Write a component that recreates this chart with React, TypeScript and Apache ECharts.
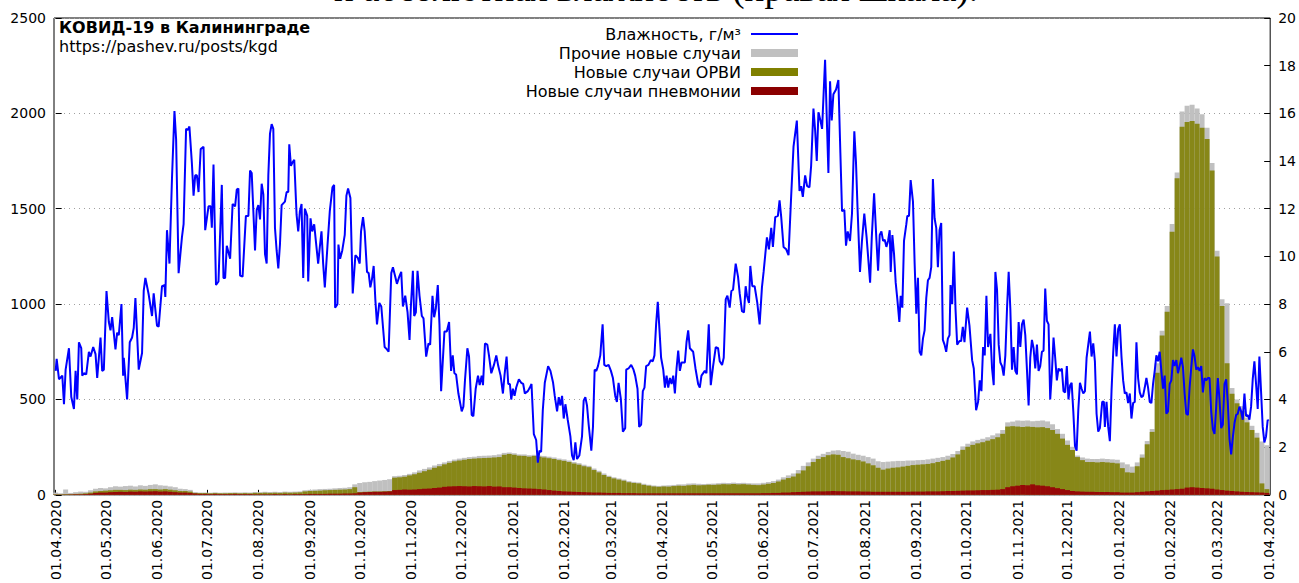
import React, { useEffect, useRef } from "react";
import * as echarts from "echarts";

// Month tick labels (x axis)
const monthLabels = [
  "01.04.2020", "01.05.2020", "01.06.2020", "01.07.2020", "01.08.2020", "01.09.2020",
  "01.10.2020", "01.11.2020", "01.12.2020", "01.01.2021", "01.02.2021", "01.03.2021",
  "01.04.2021", "01.05.2021", "01.06.2021", "01.07.2021", "01.08.2021", "01.09.2021",
  "01.10.2021", "01.11.2021", "01.12.2021", "01.01.2022", "01.02.2022", "01.03.2022",
  "01.04.2022",
];

// Bars are sampled every BAR_STEP days starting at day 0 (01.04.2020)
const BAR_STEP = 3;

// Новые случаи пневмонии
const pneumonia = [
  1, 1, 2, 2, 3, 3, 4, 6, 10, 12, 12, 14, 15, 16, 15, 17, 16, 18, 17, 18, 19, 17, 18, 16, 14, 12, 12, 10,
  7, 5, 5, 4, 5, 4, 4, 4, 5, 4, 4, 4,
  3, 3, 3, 3, 4, 3, 4, 3, 4, 4,
  4, 5, 5, 5, 5, 6, 6, 6, 7, 7, 8,
  12, 14, 15, 16, 16, 17, 18,
  25, 26, 28, 27, 28, 30, 32, 33, 36, 38, 42, 44, 45, 46, 45, 44, 46, 45, 44, 46, 43, 44,
  40, 40, 38, 36, 34, 33, 32, 30, 28, 25, 22, 20, 18, 17, 16, 15, 14, 13, 12, 12, 11, 10, 10, 10, 9, 9, 9, 8, 8, 8, 8,
  8, 8, 8, 8, 8, 8, 8, 8, 8, 8, 8, 8, 8, 8, 8, 8, 8, 8, 8, 8, 8,
  9, 9, 10, 10, 12, 12, 14, 15, 16, 17, 18, 18, 18, 19, 20,
  19, 19, 18, 18, 18, 17, 17, 16, 16, 16, 16, 16, 16, 16, 16, 17, 17, 17, 18, 18, 18, 19, 20,
  20, 21, 22, 23, 23, 24, 25, 25, 26, 27, 30, 40, 45, 48, 52, 50, 55, 50, 48, 45, 40, 35, 30, 25, 20,
  18, 17, 16, 16, 15, 15, 15, 14, 14, 12, 12, 12, 14, 16, 18, 20,
  22, 25, 26, 28, 30, 32, 38, 40, 38, 36, 34, 32, 28, 25, 22, 20, 18, 16, 15, 14, 13, 12, 10,
];

// Новые случаи ОРВИ
const orvi = [
  2, 2, 2, 2, 2, 3, 4, 6, 8, 8, 10, 10, 11, 10, 10, 10, 10, 10, 10, 12, 11, 11, 12, 11, 10, 8, 8, 7,
  3, 4, 4, 4, 4, 4, 4, 5, 4, 4, 5, 4,
  7, 7, 8, 7, 7, 7, 8, 8, 8, 9,
  14, 15, 16, 17, 19, 19, 20, 21, 21, 23, 32,
  3, 2, 2, 2, 2, 2, 2,
  65, 66, 67, 75, 80, 86, 92, 99, 106, 112, 118, 124, 131, 134, 139, 144, 144, 147, 149, 148, 153, 154,
  170, 174, 172, 169, 170, 167, 172, 170, 168, 167, 166, 162, 160, 155, 148, 143, 136, 132, 118, 106, 93, 84, 76, 70, 65, 57, 53, 52, 44, 40, 36,
  34, 36, 35, 38, 40, 39, 42, 44, 42, 43, 45, 44, 46, 48, 47, 49, 47, 48, 46, 44, 43,
  45, 49, 52, 60, 68, 76, 82, 97, 112, 133, 154, 170, 180, 189, 192,
  191, 179, 174, 168, 164, 158, 148, 139, 126, 116, 122, 126, 128, 132, 136, 139, 141, 143, 144, 148, 154, 159, 164,
  176, 191, 214, 229, 239, 246, 251, 259, 266, 275, 290, 318, 315, 310, 304, 308, 301, 304, 307, 305, 300, 285, 265, 237, 215,
  180, 165, 156, 156, 155, 157, 155, 154, 151, 128, 106, 104, 136, 179, 247, 310,
  618, 810, 934, 1352, 1630, 1898, 1917, 1920, 1907, 1889, 1831, 1668, 1222, 965, 668, 510, 462, 424, 365, 326, 287, 48, 20,
];

// Прочие новые случаи
const other = [
  9, 5, 24, 6, 9, 11, 8, 12, 14, 16, 12, 16, 19, 17, 21, 21, 18, 22, 20, 22, 25, 22, 18, 17, 16, 12, 10, 9,
  4, 3, 3, 3, 4, 3, 4, 3, 4, 4, 4, 4,
  5, 4, 5, 5, 5, 5, 5, 5, 5, 5,
  6, 6, 7, 8, 7, 7, 8, 9, 9, 10, 15,
  47, 50, 51, 54, 57, 59, 62,
  8, 8, 9, 8, 10, 12, 12, 12, 12, 12, 10, 10, 9, 10, 10, 10, 10, 12, 12, 12, 12, 14,
  10, 8, 8, 7, 8, 8, 6, 6, 8, 8, 8, 8, 8, 8, 8, 8, 8, 7, 8, 8, 8, 6, 6, 6, 6, 6, 6, 5, 6, 5, 5,
  5, 5, 7, 6, 7, 8, 9, 8, 8, 6, 5, 7, 7, 7, 7, 7, 7, 7, 7, 8, 9,
  9, 9, 10, 10, 12, 14, 16, 18, 24, 20, 18, 17, 17, 17, 20,
  24, 32, 34, 30, 28, 30, 33, 35, 34, 40, 36, 34, 34, 30, 28, 24, 24, 23, 24, 24, 22, 20, 21,
  18, 18, 18, 16, 18, 18, 18, 18, 20, 20, 20, 22, 24, 32, 32, 32, 30, 34, 35, 35, 30, 25, 25, 23, 17,
  8, 14, 18, 16, 18, 18, 18, 18, 19, 30, 42, 32, 20, 17, 17, 15,
  50, 25, 30, 40, 30, 80, 85, 85, 80, 70, 60, 40, 30, 35, 315, 30, 20, 25, 25, 22, 25, 220, 230,
];

// Влажность, г/м³ : [day since 01.04.2020, value]
const humidity: [number, number][] = [
  [0, 5.2], [0.6, 5.7], [2, 4.85], [4, 5.0], [5, 3.8], [6, 5.25], [8, 6.15], [9.4, 4.1], [11, 3.6], [12, 5.2], [13, 4.0], [14, 6.4], [15.4, 6.15], [16, 5.0], [17, 5.1], [18.4, 5.05], [20, 6.0], [21, 5.8], [22.6, 6.2], [24, 5.9], [25, 4.9], [27, 6.6], [28, 5.2], [29, 5.25], [30.6, 8.55], [32, 7.25], [33, 6.9], [34, 7.45], [36, 6.1], [37, 6.8], [38, 6.7], [39.6, 8.0], [40.6, 5.0], [41, 5.75], [43, 4.0], [44.6, 6.4], [46, 6.6], [47, 7.0], [48, 8.25], [50, 5.25], [52, 5.95], [53, 8.55], [54, 9.1], [56, 8.4], [58, 7.5], [59, 8.45], [61, 7.1], [62, 7.05], [64, 8.75], [65.5, 8.8], [66, 8.3], [67, 11.1], [68.5, 9.7], [70, 13.25], [71.5, 16.1], [72.5, 14.9], [74, 9.3], [76, 10.8], [77, 11.35], [78.5, 15.35], [79.5, 15.3], [80.5, 15.45], [82, 13.9], [83, 12.55], [84, 13.4], [85, 13.4], [86, 12.7], [87.3, 14.5], [89, 14.6], [90, 11.1], [91, 11.6], [92, 12.1], [93.3, 12.1], [94, 11.2], [95, 13.85], [96.5, 8.8], [98, 8.95], [100, 13.0], [101, 9.1], [102, 9.1], [103, 10.45], [105, 9.9], [106.5, 12.2], [108, 12.1], [109, 12.8], [110, 12.85], [111, 9.2], [112.5, 9.15], [114.5, 11.7], [116, 11.7], [117, 13.6], [118, 13.5],
  [120, 10.25], [121, 11.95], [122, 12.15], [123, 11.55], [124, 13.05], [125, 12.6], [126, 10.1], [127, 9.7], [128, 13.4], [129, 15.15], [130, 15.55], [131, 15.35], [132, 11.2], [133, 10.25], [134, 9.5], [135, 10.5], [136, 12.15], [138, 12.3], [139, 12.7], [140, 12.7], [140.6, 14.7], [141.6, 13.8], [142.6, 13.95], [143.6, 14.05], [145, 11.75], [146, 11.05], [147, 11.9], [148, 12.2], [149, 9.1], [150, 12.0], [151.4, 11.7], [152, 8.95], [153.4, 11.6], [154.4, 11.05], [155.6, 11.35], [156.6, 10.65], [158, 9.7], [159, 10.4], [160, 11.05], [161, 9.7], [162, 8.7], [163.6, 10.45], [165, 11.9], [166.6, 12.9], [167.6, 13.0], [168.2, 7.85], [169.6, 8.0], [170.2, 10.5], [171.2, 9.9], [172.5, 10.25], [174, 10.9], [175, 12.55], [176, 12.85], [177.4, 12.45], [178.8, 8.45], [180.4, 10.05], [181.8, 9.95], [183, 9.7], [183.8, 11.05], [185, 11.65], [186, 11.05], [187.4, 9.35], [188.4, 9.3], [189.4, 8.7], [190.4, 9.05], [191.4, 9.6], [192.4, 8.2], [193.4, 7.15], [194.8, 8.05], [196, 7.9], [198, 6.2], [199.4, 6.1], [200.4, 6.0], [202, 9.3], [203, 9.55], [204.4, 9.15], [205.4, 8.85], [206.8, 9.15], [208, 9.35], [209, 7.9], [210.4, 8.35], [211.8, 7.65], [213, 6.5], [213.8, 7.9], [215, 9.4], [215.8, 7.5], [216.8, 7.65], [217.8, 9.4], [219, 8.35], [220.4, 7.5], [221.4, 7.4], [223, 5.8], [224.4, 6.35], [225.4, 6.3], [226.8, 8.35], [227.8, 7.45], [228.8, 7.8], [230, 8.8], [231, 7.15], [232, 4.35], [234, 6.85], [235.4, 6.85], [236.8, 7.25], [238, 5.2], [239, 5.85], [240, 5.1], [241, 5.05], [242.4, 4.25],
  [244.4, 3.5], [245.4, 3.7], [246.4, 4.85], [247.8, 6.15], [248.8, 5.8], [250.4, 3.35], [251.4, 3.3], [252.8, 4.45], [254.2, 5.0], [255.2, 4.6], [256.4, 5.0], [257.2, 4.6], [258.4, 6.35], [259.8, 6.3], [260.8, 5.85], [262.2, 5.1], [263.8, 5.45], [265.2, 5.85], [266.4, 5.4], [267.8, 5.0], [269.2, 4.25], [270.2, 5.05], [271.4, 5.8], [272.4, 4.65], [273.4, 4.65], [274.2, 4.0], [275.2, 4.45], [276.2, 4.15], [277.2, 4.5], [278.8, 4.85], [280.2, 4.7], [281.4, 4.65], [282.4, 4.25], [284.2, 4.35], [285.4, 4.5], [286.4, 4.65], [287.8, 2.55], [289.2, 2.3], [290.2, 1.35], [291.2, 1.85], [292.2, 1.8], [293.2, 3.55], [294.4, 4.7], [296.4, 5.4], [297.8, 5.2], [299.4, 4.7], [300.4, 4.15], [301.8, 3.5], [302.8, 4.1], [303.8, 3.75], [304.8, 4.15], [305.8, 3.2], [306.8, 3.8], [308.2, 3.15], [309.8, 2.45], [310.8, 1.65], [311.8, 1.45], [312.8, 2.2], [313.8, 1.5], [315.2, 1.65], [316.8, 2.45], [317.8, 3.95], [318.8, 4.1], [319.8, 3.75], [320.8, 2.95], [322.4, 1.85], [323.4, 2.85], [324.4, 5.25], [325.4, 5.2], [326.4, 5.4], [327.8, 5.85], [329.2, 7.15], [330.2, 5.45], [331.4, 5.4], [332.8, 5.45], [334.2, 5.2], [335.4, 4.9], [336.8, 4.15], [337.8, 3.9], [338.8, 4.7], [340.2, 4.0], [341.4, 2.65], [342.8, 2.8], [343.4, 5.25], [344.8, 5.3], [346.4, 5.45], [347.8, 5.25], [348.8, 5.0], [350.2, 4.45], [351.2, 2.85], [352.4, 2.95], [353.4, 4.35], [354.4, 4.5], [355.4, 5.4], [356.8, 5.45], [358.2, 5.65], [359.4, 5.6], [360.4, 5.85], [361.4, 7.15], [362.4, 8.1], [363.4, 6.95], [364.4, 5.75],
  [365.7, 5.25], [366.7, 4.5], [367.7, 5.0], [368.7, 4.5], [369.7, 4.9], [370.7, 4.65], [371.7, 5.0], [372.7, 4.25], [373.7, 5.3], [374.7, 6.05], [375.7, 5.2], [376.7, 5.55], [378.7, 5.55], [379.7, 6.4], [380.7, 6.9], [381.7, 6.15], [383.7, 6.0], [385.1, 5.3], [386.7, 4.65], [387.7, 4.5], [388.7, 5.0], [390.7, 5.2], [391.7, 5.1], [393.1, 7.15], [394.3, 4.6], [395.7, 5.4], [397.3, 6.2], [398.7, 6.15], [399.7, 5.6], [401.1, 5.45], [402.1, 5.75], [403.3, 8.2], [404.3, 8.35], [405.7, 7.85], [406.7, 8.55], [407.7, 8.6], [409.3, 9.7], [410.7, 9.15], [411.7, 8.45], [413.1, 7.7], [414.3, 7.65], [415.3, 8.75], [416.1, 8.35], [417.3, 8.05], [418.1, 9.6], [419.3, 8.75], [420.7, 8.75], [422.3, 8.05], [423.7, 7.15], [425.1, 8.7], [426.1, 9.35], [428.1, 10.8], [429.3, 10.3], [430.7, 11.2], [431.7, 10.4], [433.1, 11.65], [434.7, 11.7], [435.7, 12.35], [436.7, 11.65], [438.1, 10.4], [439.7, 10.3], [441.1, 10.05], [442.7, 12.55], [444.1, 14.6], [446.1, 15.7], [447.7, 12.75], [448.7, 12.95], [449.7, 12.5], [451.1, 13.4], [452.3, 12.95], [453.7, 12.9], [454.7, 13.8], [456.1, 16.2], [457.1, 15.3], [458.1, 14.0], [459.1, 16.05], [460.3, 15.7], [461.3, 15.35], [463.1, 18.25], [464.1, 15.85], [465.1, 13.5], [466.1, 17.35], [467.1, 15.7], [468.1, 16.8], [469.7, 17.0], [471.1, 17.4], [472.3, 14.35], [473.3, 11.9], [474.7, 11.95], [475.7, 10.45], [476.7, 11.05], [478.1, 10.65], [479.3, 11.8], [480.7, 15.25], [481.7, 13.95], [482.7, 11.9], [484.1, 9.35], [485.3, 10.65], [486.7, 11.8], [488.1, 10.8],
  [490.2, 8.9], [491.2, 10.8], [492.6, 12.65], [494, 10.7], [495, 9.4], [496, 10.9], [497, 11.05], [498, 10.65], [499, 10.7], [500, 10.4], [501, 10.65], [502, 11.1], [502.6, 9.35], [503.6, 10.9], [504.6, 10.1], [505.6, 8.9], [506.6, 8.2], [507.8, 7.25], [508.6, 8.35], [509.6, 7.85], [510.6, 10.65], [512, 11.35], [512.6, 11.7], [513.6, 11.7], [514.6, 13.2], [516, 12.3], [517, 9.7], [518, 7.6], [519, 9.1], [520, 6.0], [521, 5.85], [522, 6.55], [523, 6.9], [524, 8.25], [525, 9.0], [526, 9.1], [527, 9.55], [528, 13.25], [529, 11.6], [530, 11.2], [531, 9.55], [532, 11.1], [533, 11.4], [534, 6.5], [535, 6.3], [536, 6.0], [537, 6.55], [538, 6.7], [538.6, 8.8], [539.6, 8.0], [540.6, 10.2], [541.6, 7.8], [542.6, 6.3], [544, 6.45], [545, 6.45], [546, 7.05], [547, 6.4], [548.6, 7.85], [550, 7.1], [551.6, 5.65], [552.6, 5.3], [554, 3.55], [555.2, 3.9], [556.2, 4.8], [557.2, 4.35], [558.2, 6.2], [559.2, 5.85], [560.2, 8.35], [561.2, 6.2], [562.6, 6.75], [563.6, 5.3], [564.6, 4.6], [565.6, 9.35], [566.6, 8.6], [567.6, 6.3], [568.6, 5.55], [569.6, 5.4], [570.6, 5.0], [571.6, 5.85], [572.6, 7.8], [573.6, 9.35], [574.6, 7.8], [575.6, 5.25], [576.6, 6.2], [577.6, 5.2], [578.6, 5.05], [579.6, 7.25], [580.6, 6.2], [581.6, 7.15], [582.6, 7.35], [583.6, 6.7], [584.6, 5.25], [585.6, 3.75], [586.6, 5.75], [587.6, 6.5], [588.6, 6.15], [589.6, 5.3], [590.6, 6.3], [591.6, 5.2], [592.6, 5.4], [593.6, 6.0], [594.6, 6.05], [595.6, 8.65], [596.6, 7.3], [597.6, 7.15], [598.6, 4.0], [599.6, 5.1], [600.6, 6.6], [601.6, 5.75], [602.6, 4.8], [603.6, 5.3], [604.6, 5.2], [605.6, 5.3], [606.6, 4.35], [607.6, 4.3], [608.6, 5.4], [609.6, 4.0], [610.6, 4.6],
  [611.5, 4.7], [612.5, 3.5], [613.5, 2.05], [614.5, 1.85], [615.5, 3.55], [616.5, 4.7], [617.5, 4.45], [618.5, 4.25], [619.5, 4.35], [620.5, 5.75], [621.5, 6.3], [622.5, 6.85], [623.5, 5.8], [624.5, 6.35], [625.5, 5.6], [626.5, 3.4], [627.5, 2.65], [628.5, 2.8], [629.9, 3.9], [630.9, 3.9], [631.5, 2.85], [632.5, 3.9], [633.5, 2.85], [634.5, 2.25], [635.5, 4.35], [636.5, 5.95], [637.5, 7.15], [638.5, 5.8], [639.5, 6.95], [640.5, 7.15], [641.5, 5.8], [642.5, 4.8], [643.5, 4.25], [644.5, 4.3], [645.5, 3.85], [646.5, 4.25], [647.5, 3.2], [648.5, 3.85], [649.5, 3.9], [650.5, 6.4], [651.5, 4.9], [652.5, 4.3], [653.5, 4.1], [654.5, 4.15], [655.5, 4.5], [656.5, 4.9], [657.5, 4.5], [658.5, 3.9], [659.5, 3.85], [660.5, 4.65], [661.5, 5.2], [662.5, 5.85], [663.5, 5.6], [664.5, 6.0], [665.5, 5.2], [666.5, 4.45], [667.5, 5.0], [668.5, 3.4], [669.5, 3.5], [670.5, 4.65], [671.5, 4.8], [672.5, 5.65], [673.5, 5.4], [674.5, 5.65], [675.5, 5.1], [676.5, 5.4], [677.5, 5.75], [678.5, 5.35], [679.5, 4.25], [680.5, 3.4], [681.5, 3.35], [682.5, 4.5], [683.5, 5.35], [684.5, 6.1], [685.5, 5.8], [686.5, 5.25], [687.5, 5.35], [688.5, 5.2], [689.5, 5.4], [690.5, 4.3], [691.5, 4.9], [692.5, 4.8], [693.5, 4.9], [694.5, 4.9], [695.5, 3.5], [696.5, 2.75], [697.5, 2.55], [698.5, 3.7], [699.5, 4.9], [700.5, 4.0], [701.5, 2.8], [702.5, 2.95], [703.5, 4.65], [704.5, 4.85], [705.5, 3.85], [706.5, 2.35], [707.5, 1.7], [708.5, 2.4], [709.5, 3.0], [710.5, 3.35], [711.5, 3.4], [712.5, 3.7], [713.5, 3.5], [714.5, 3.15], [715.5, 4.25], [716.5, 3.3], [717.5, 3.35], [718.5, 3.15], [719.5, 3.7], [720.5, 4.85], [721.5, 5.6], [722.5, 4.65], [723.5, 3.6], [724.5, 5.8], [725.5, 4.35], [726.5, 2.85], [727.5, 2.2], [728.5, 2.45], [729.5, 3.15], [730, 3.1],
];

const leftTicks = [0, 500, 1000, 1500, 2000, 2500];
const rightTicks = [0, 2, 4, 6, 8, 10, 12, 14, 16, 18, 20];

const COLORS = {
  humidity: "#0000ff",
  other: "#c0c0c0",
  orvi: "#808000",
  orviBar: "#878718",
  pneumonia: "#8b0000",
  pneumoniaBar: "#960808",
};

const FONT = '"DejaVu Sans", sans-serif';

function dayOf(label: string): number {
  const [dd, mm, yyyy] = label.split(".").map(Number);
  const t0 = Date.UTC(2020, 3, 1);
  return Math.round((Date.UTC(yyyy, mm - 1, dd) - t0) / 86400000);
}

export default function App() {
  const ref = useRef<HTMLDivElement>(null);

  useEffect(() => {
    if (!ref.current) return;
    const chart = echarts.init(ref.current, null, { renderer: "svg" });

    const monthDays = monthLabels.map(dayOf);
    const labelByDay: Record<number, string> = {};
    monthDays.forEach((d, i) => (labelByDay[d] = monthLabels[i]));

    // Cumulative tops (drawn as overlapping bars, back to front)
    const totalTop = pneumonia.map((p, i) => [i * BAR_STEP, p + orvi[i] + other[i]]);
    const orviTop = pneumonia.map((p, i) => [i * BAR_STEP, p + orvi[i]]);
    const pneuTop = pneumonia.map((p, i) => [i * BAR_STEP, p]);

    const barCommon = {
      type: "bar" as const,
      xAxisIndex: 0,
      yAxisIndex: 0,
      barWidth: 5,
      barGap: "-100%",
    };

    const legendX = 741;
    const legendRows = [
      { text: "Влажность, г/м³", y: 34, kind: "line", color: COLORS.humidity },
      { text: "Прочие новые случаи", y: 53, kind: "rect", color: COLORS.other },
      { text: "Новые случаи ОРВИ", y: 72, kind: "rect", color: COLORS.orvi },
      { text: "Новые случаи пневмонии", y: 91, kind: "rect", color: COLORS.pneumonia },
    ];
    const legendGraphics: any[] = [];
    legendRows.forEach((r) => {
      legendGraphics.push({
        type: "text",
        x: legendX,
        y: r.y,
        z: 100,
        style: {
          text: r.text,
          font: `16px ${FONT}`,
          fill: "#000",
          align: "right",
          verticalAlign: "middle",
        },
      });
      if (r.kind === "line") {
        legendGraphics.push({
          type: "line",
          z: 100,
          shape: { x1: 751, y1: r.y, x2: 798, y2: r.y },
          style: { stroke: r.color, lineWidth: 2 },
        });
      } else {
        legendGraphics.push({
          type: "rect",
          z: 100,
          shape: { x: 751, y: r.y - 4, width: 47, height: 8 },
          style: { fill: r.color },
        });
      }
    });

    const option: any = {
      animation: false,
      grid: {
        left: 54,
        right: 25,
        top: 18,
        bottom: 78,
        show: true,
        borderColor: "#000",
        borderWidth: 1,
        backgroundColor: "transparent",
      },
      xAxis: [
        {
          type: "value",
          min: -1,
          max: 731,
          axisLine: { show: false },
          splitLine: { show: false },
          axisTick: {
            show: true,
            inside: true,
            length: 5,
            customValues: monthDays,
            lineStyle: { color: "#000" },
          },
          axisLabel: {
            customValues: monthDays,
            rotate: 90,
            margin: 5,
            fontSize: 14,
            fontFamily: FONT,
            color: "#000",
            formatter: (v: number) => labelByDay[Math.round(v)] ?? "",
          },
        },
      ],
      yAxis: [
        {
          type: "value",
          min: 0,
          max: 2500,
          interval: 500,
          position: "left",
          axisLine: { show: false },
          axisTick: { show: true, inside: true, length: 6, lineStyle: { color: "#000" } },
          axisLabel: {
            fontSize: 14,
            fontFamily: FONT,
            color: "#000",
            margin: 8,
            customValues: leftTicks,
            formatter: (v: number) => String(v),
          },
          splitLine: {
            show: true,
            lineStyle: { color: "#a0a0a0", type: [1, 4], width: 1 },
          },
        },
        {
          type: "value",
          min: 0,
          max: 20,
          interval: 2,
          position: "right",
          axisLine: { show: false },
          axisTick: { show: true, inside: true, length: 6, lineStyle: { color: "#000" } },
          axisLabel: {
            fontSize: 14,
            fontFamily: FONT,
            color: "#000",
            margin: 8,
            customValues: rightTicks,
            formatter: (v: number) => String(v),
          },
          splitLine: { show: false },
        },
      ],
      graphic: [
        {
          type: "text",
          x: 656,
          y: 7,
          style: {
            text: "и абсолютная влажность (правая шкала).",
            font: '37px "Liberation Serif", serif',
            fill: "#000",
            align: "center",
            verticalAlign: "bottom",
          },
        },
        {
          type: "text",
          x: 59,
          y: 27,
          z: 100,
          style: {
            text: "КОВИД-19 в Калининграде",
            font: `bold 16px ${FONT}`,
            fill: "#000",
            verticalAlign: "middle",
          },
        },
        {
          type: "text",
          x: 59,
          y: 46,
          z: 100,
          style: {
            text: "https://pashev.ru/posts/kgd",
            font: `16px ${FONT}`,
            fill: "#000",
            verticalAlign: "middle",
          },
        },
        ...legendGraphics,
      ],
      series: [
        {
          ...barCommon,
          name: "Прочие новые случаи",
          data: totalTop,
          itemStyle: { color: COLORS.other },
        },
        {
          ...barCommon,
          name: "Новые случаи ОРВИ",
          data: orviTop,
          itemStyle: { color: COLORS.orviBar },
        },
        {
          ...barCommon,
          name: "Новые случаи пневмонии",
          data: pneuTop,
          itemStyle: { color: COLORS.pneumoniaBar },
        },
        {
          type: "line",
          name: "Влажность, г/м³",
          xAxisIndex: 0,
          yAxisIndex: 1,
          data: humidity,
          showSymbol: false,
          symbol: "none",
          lineStyle: { color: COLORS.humidity, width: 2 },
          z: 10,
        },
      ],
    };

    chart.setOption(option);
    return () => chart.dispose();
  }, []);

  return (
    <div
      ref={ref}
      style={{ position: "absolute", left: 0, top: 0, width: 1299, height: 583, background: "#fff" }}
    />
  );
}
